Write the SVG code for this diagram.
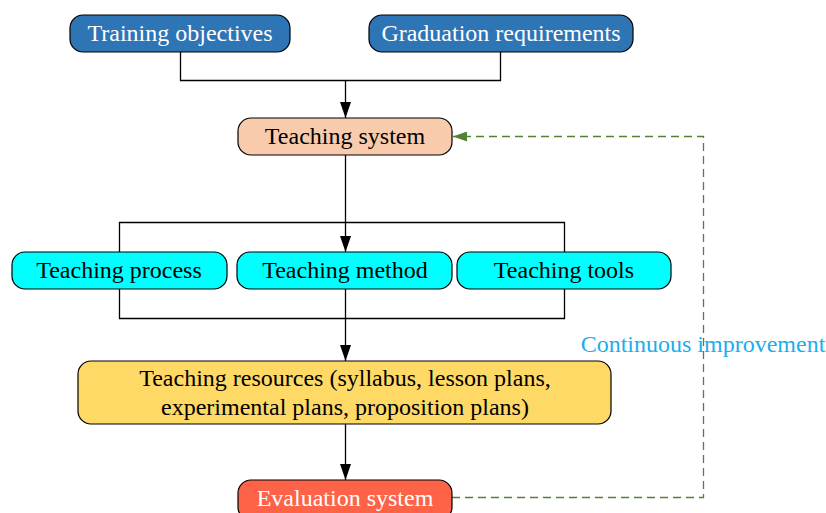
<svg xmlns="http://www.w3.org/2000/svg" width="826" height="513" viewBox="0 0 826 513">
<defs>
<marker id="ah" markerWidth="16" markerHeight="11" refX="16" refY="5.5" orient="auto" markerUnits="userSpaceOnUse" viewBox="0 0 16 11"><path d="M0,0 L16,5.5 L0,11 z" fill="#000"/></marker>
<marker id="ahg" markerWidth="14" markerHeight="10" refX="14" refY="5" orient="auto" markerUnits="userSpaceOnUse"><path d="M0,0 L14,5 L0,10 z" fill="#548235"/></marker>
<style>
.n{stroke:#000;stroke-width:1.2}
.t{font-family:"Liberation Serif","Times New Roman",serif;font-size:24px;text-anchor:middle}
.w{fill:#fff}
.k{fill:#000}
.c{fill:none;stroke:#000;stroke-width:1.3}
</style>
</defs>
<rect width="826" height="513" fill="#fff"/>
<g id="connectors">
<path class="c" d="M180.5,52 V80.5 H500.5 V52"/>
<path class="c" d="M345.5,80 V118" marker-end="url(#ah)"/>
<path class="c" d="M345.5,155 V252" marker-end="url(#ah)"/>
<path class="c" d="M119.5,252 V222.5 H564.5 V252"/>
<path class="c" d="M119.5,289 V318.5 H564.5 V289"/>
<path class="c" d="M345.5,289 V361" marker-end="url(#ah)"/>
<path class="c" d="M345.5,424 V480" marker-end="url(#ah)"/>
<path d="M452,497.5 H703.5 V136.5 H453" fill="none" stroke="#548235" stroke-width="1.3" stroke-dasharray="8,5" marker-end="url(#ahg)"/>
<text class="t" x="703" y="352" style="fill:#1AAEEC">Continuous improvement</text>
</g>
<g id="training-objectives"><rect class="n" x="70" y="15" width="220" height="37" rx="13" fill="#2E75B6"/><text class="t w" x="180" y="41">Training objectives</text></g>
<g id="graduation-requirements"><rect class="n" x="369" y="15" width="264" height="37" rx="13" fill="#2E75B6"/><text class="t w" x="501" y="41">Graduation requirements</text></g>
<g id="teaching-system"><rect class="n" x="238" y="118" width="214" height="37" rx="13" fill="#F8CBAD"/><text class="t k" x="345" y="144">Teaching system</text></g>
<g id="teaching-process"><rect class="n" x="12" y="252" width="215" height="37" rx="13" fill="#00FFFF"/><text class="t k" x="119" y="278">Teaching process</text></g>
<g id="teaching-method"><rect class="n" x="237" y="252" width="215" height="37" rx="13" fill="#00FFFF"/><text class="t k" x="345" y="278">Teaching method</text></g>
<g id="teaching-tools"><rect class="n" x="457" y="252" width="214" height="37" rx="13" fill="#00FFFF"/><text class="t k" x="564" y="278">Teaching tools</text></g>
<g id="teaching-resources"><rect class="n" x="78" y="361" width="533" height="63" rx="13" fill="#FFD966"/><text class="t k" x="345" y="386">Teaching resources (syllabus, lesson plans,</text><text class="t k" x="345" y="415">experimental plans, proposition plans)</text></g>
<g id="evaluation-system"><rect class="n" x="238" y="480" width="214" height="40" rx="13" fill="#FF6347"/><text class="t w" x="345" y="506">Evaluation system</text></g>
</svg>
